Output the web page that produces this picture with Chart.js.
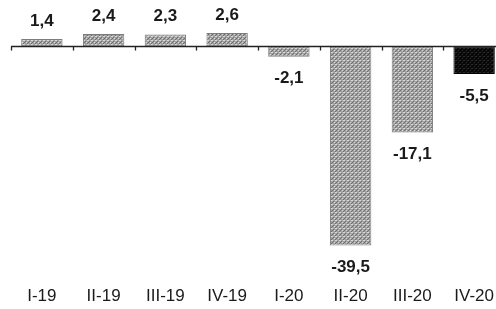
<!DOCTYPE html>
<html>
<head>
<meta charset="utf-8">
<script src="https://cdn.jsdelivr.net/npm/chart.js@4"></script>
<style>
  html, body { margin: 0; padding: 0; background: #fff; overflow: hidden; }
  #chart { display: block; }
</style>
</head>
<body>
<canvas id="chart" width="506" height="309"></canvas>
<script>
// Quarterly change, %
const quarters = ['I-19', 'II-19', 'III-19', 'IV-19', 'I-20', 'II-20', 'III-20', 'IV-20'];
const values = [1.4, 2.4, 2.3, 2.6, -2.1, -39.5, -17.1, -5.5];
const valueLabels = ['1,4', '2,4', '2,3', '2,6', '-2,1', '-39,5', '-17,1', '-5,5'];

// speckled grey fill like the scanned print
function makePattern(base, light, dark) {
  const c = document.createElement('canvas');
  c.width = 4; c.height = 4;
  const g = c.getContext('2d');
  g.fillStyle = base;
  g.fillRect(0, 0, 4, 4);
  g.fillStyle = light;
  g.fillRect(0, 0, 1, 1); g.fillRect(2, 2, 1, 1); g.fillRect(3, 0, 1, 1);
  g.fillStyle = dark;
  g.fillRect(1, 1, 1, 1); g.fillRect(3, 3, 1, 1); g.fillRect(0, 2, 1, 1);
  return g.createPattern(c, 'repeat');
}
const greyFill = makePattern('#a2a2a2', '#d8d8d8', '#6e6e6e');
const blackFill = makePattern('#0c0c0c', '#2a2a2a', '#000');

const FONT = '"Liberation Sans", Arial, sans-serif';

// zero line with small ticks between categories, plus category names
const axisLine = {
  id: 'axisLine',
  afterDatasetsDraw(chart) {
    const { ctx, chartArea, scales: { x, y } } = chart;
    const y0 = Math.round(y.getPixelForValue(0)) + 0.5;
    const step = (chartArea.right - chartArea.left) / quarters.length;
    ctx.save();
    ctx.strokeStyle = '#222';
    ctx.lineWidth = 1.3;
    ctx.beginPath();
    ctx.moveTo(chartArea.left, y0);
    ctx.lineTo(chartArea.right, y0);
    for (let i = 0; i <= quarters.length; i++) {
      const px = Math.round(chartArea.left + i * step) + 0.5;
      ctx.moveTo(px, y0);
      ctx.lineTo(px, y0 + 4);
    }
    ctx.stroke();

    ctx.font = '17px ' + FONT;
    ctx.fillStyle = '#1a1a1a';
    ctx.textAlign = 'center';
    ctx.textBaseline = 'middle';
    quarters.forEach((q, i) => ctx.fillText(q, x.getPixelForValue(i), 296));
    ctx.restore();
  }
};

// numbers above / below bars
const barLabels = {
  id: 'barLabels',
  afterDatasetsDraw(chart) {
    const { ctx } = chart;
    const meta = chart.getDatasetMeta(0);
    ctx.save();
    ctx.font = 'bold 17px ' + FONT;
    ctx.fillStyle = '#1a1a1a';
    ctx.textAlign = 'center';
    ctx.textBaseline = 'middle';
    meta.data.forEach((bar, i) => {
      const off = values[i] >= 0 ? -18 : 22;
      ctx.fillText(valueLabels[i], bar.x, bar.y + off);
    });
    ctx.restore();
  }
};

new Chart(document.getElementById('chart'), {
  type: 'bar',
  data: {
    labels: quarters,
    datasets: [{
      data: values,
      backgroundColor: quarters.map((q, i) => i === quarters.length - 1 ? blackFill : greyFill),
      borderColor: quarters.map((q, i) => i === quarters.length - 1 ? '#000' : '#7c7c7c'),
      borderWidth: 1,
      borderSkipped: false,
      categoryPercentage: 1,
      barPercentage: 0.67
    }]
  },
  options: {
    responsive: false,
    animation: false,
    events: [],
    layout: { padding: { left: 11, right: 1, top: 26, bottom: 56 } },
    plugins: { legend: { display: false }, tooltip: { enabled: false } },
    scales: {
      x: { display: false },
      y: { display: false, min: -41, max: 4 }
    }
  },
  plugins: [axisLine, barLabels]
});
</script>
</body>
</html>
